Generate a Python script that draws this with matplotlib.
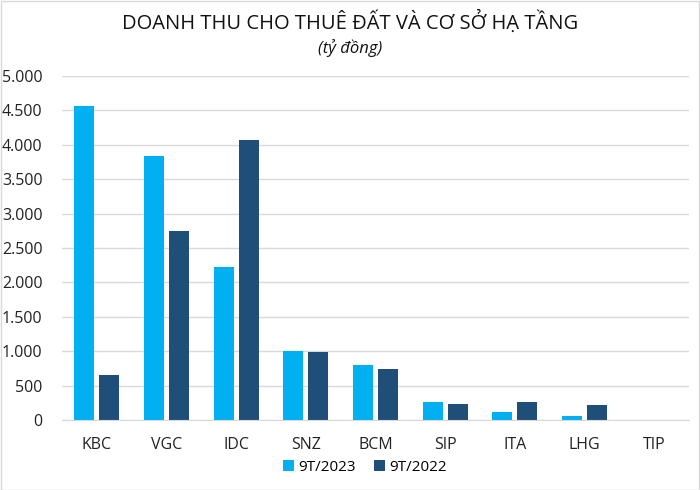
import matplotlib
matplotlib.use("Agg")
import matplotlib.pyplot as plt
import numpy as np
from matplotlib.ticker import FuncFormatter

plt.rcParams['font.family'] = ['Open Sans', 'DejaVu Sans']

# data (tỷ đồng)
companies = ["KBC", "VGC", "IDC", "SNZ", "BCM", "SIP", "ITA", "LHG", "TIP"]
rev_2023 = [4560, 3840, 2220, 1000, 805, 265, 120, 52, 0]
rev_2022 = [657, 2750, 4075, 990, 740, 228, 260, 218, 0]
series_labels = ["9T/2023", "9T/2022"]

c_2023 = "#00B0F0"
c_2022 = "#1F4E79"

fig = plt.figure(figsize=(7, 4.9), dpi=100)
ax = fig.add_axes([62 / 700, 70 / 490, 627 / 700, 344 / 490])

x = np.arange(len(companies))
w = 0.286
off = 0.179
ax.bar(x - off, rev_2023, w, color=c_2023, label=series_labels[0])
ax.bar(x + off, rev_2022, w, color=c_2022, label=series_labels[1])

ax.set_xlim(-0.5, len(companies) - 0.5)
ax.set_ylim(0, 5000)
ax.set_yticks(np.arange(0, 5001, 500))
ax.yaxis.set_major_formatter(FuncFormatter(lambda v, p: f"{int(v):,}".replace(",", ".")))
ax.set_xticks(x)
ax.set_xticklabels(companies)
ax.tick_params(axis="both", length=0, labelsize=11.5, colors="#222222")
ax.tick_params(axis="x", pad=12)
ax.tick_params(axis="y", pad=14)
ax.grid(axis="y", color="#D9D9D9", linewidth=1)
ax.set_axisbelow(True)
for s in ["top", "right", "left"]:
    ax.spines[s].set_visible(False)
ax.spines["bottom"].set_color("#D9D9D9")

fig.text(0.5, 1 - 22 / 490, "DOANH THU CHO THUÊ ĐẤT VÀ CƠ SỞ HẠ TẦNG",
         ha="center", va="center", fontsize=14.5, color="#111111")
fig.text(0.5, 1 - 48 / 490, "(tỷ đồng)", ha="center", va="center",
         fontsize=12, style="italic", color="#111111")

fig.legend(loc="center", bbox_to_anchor=(365 / 700, 1 - 467 / 490), ncol=2,
           frameon=False, fontsize=11, handlelength=0.7, handleheight=0.7,
           handletextpad=0.3, columnspacing=1.2)

fig.patches.append(plt.Rectangle((0.001, 0.001), 0.997, 0.997, transform=fig.transFigure,
                                 fill=False, edgecolor="#D9D9D9", linewidth=1))

fig.savefig("out.png", dpi=100)
